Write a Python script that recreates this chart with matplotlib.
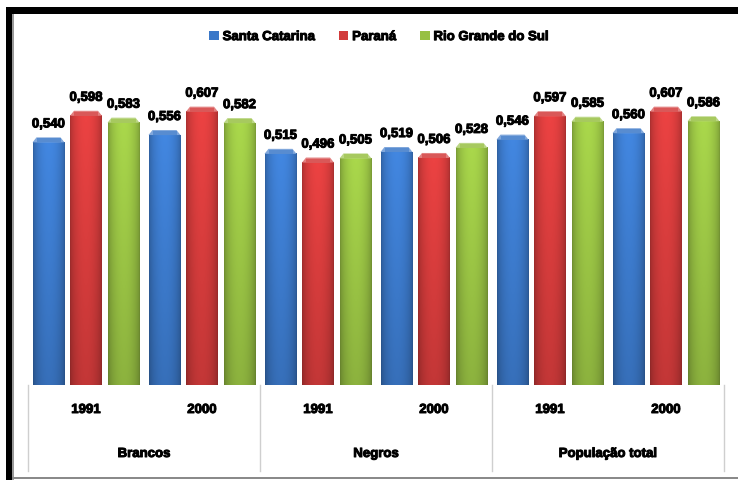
import numpy as np
import matplotlib
matplotlib.use('Agg')
import matplotlib.pyplot as plt
import matplotlib.patheffects as pe
from matplotlib.patches import Rectangle, Polygon, Patch
from matplotlib.colors import to_rgb

plt.rcParams['font.family'] = ['Liberation Sans', 'DejaVu Sans']
plt.rcParams['font.weight'] = 'bold'

groups = ['Brancos', 'Negros', 'População total']
years = ['1991', '2000']
states = ['Santa Catarina', 'Paraná', 'Rio Grande do Sul']
santa_catarina = [0.540, 0.556, 0.515, 0.519, 0.546, 0.560]
parana = [0.598, 0.607, 0.496, 0.506, 0.597, 0.607]
rio_grande = [0.583, 0.582, 0.505, 0.528, 0.585, 0.586]

colors = ['#3b78c8', '#d23b3b', '#97c043']

# heavier strokes on the bold text
heavy = [pe.withStroke(linewidth=0.7, foreground='black')]

W, H = 738, 481
fig = plt.figure(figsize=(W / 100, H / 100), dpi=100)

# plot area in pixels: x 28..724, y 65..386 (from top)
ax = fig.add_axes([28 / W, (H - 386) / H, (724 - 28) / W, (386 - 65) / H])
ax.set_xlim(0, 6)
ax.set_ylim(0, 0.7)
ax.axis('off')

bar_w = 32 / 116
step = 37.5 / 116
bevel_h = 5 / 458
bevel_in = 4 / 116


def shaded_bar(ax, xc, h, color):
    rgb = np.array(to_rgb(color))
    x0, x1 = xc - bar_w / 2, xc + bar_w / 2
    top = h - bevel_h
    xs = np.linspace(0, 1, 40)
    horiz = 0.78 + 0.30 * np.sin(np.pi * xs) ** 0.6
    vert = np.linspace(1.04, 0.86, 80)
    img = rgb[None, None, :] * horiz[None, :, None] * vert[:, None, None]
    img = np.clip(img, 0, 1)
    ax.imshow(img, extent=(x0, x1, 0, top), origin='upper', aspect='auto',
              interpolation='bilinear', zorder=2)
    light = rgb + (1 - rgb) * 0.35
    cap = Polygon([(x0, top), (x0 + bevel_in, h), (x1 - bevel_in, h), (x1, top)],
                  closed=True, facecolor=light, edgecolor='none', zorder=3)
    ax.add_patch(cap)
    ax.add_patch(Polygon([(x0 + bevel_in, top), (x0 + bevel_in, h - bevel_h * 0.2),
                          (x1 - bevel_in, h - bevel_h * 0.2), (x1 - bevel_in, top)],
                         closed=True, facecolor=rgb + (1 - rgb) * 0.15, edgecolor='none', zorder=3))


series = [santa_catarina, parana, rio_grande]
for s, (vals, col) in enumerate(zip(series, colors)):
    for i, v in enumerate(vals):
        xc = i + 0.5 + (s - 1) * step
        shaded_bar(ax, xc, v, col)
        ax.annotate(f'{v:.3f}'.replace('.', ','), (xc, v), xytext=(0, 5),
                    textcoords='offset points', ha='center', va='bottom',
                    fontsize=9.5, fontweight='bold', zorder=4, path_effects=heavy)

ax.set_xlim(0, 6)
ax.set_ylim(0, 0.7)

# two-level category axis
trans = ax.get_xaxis_transform()
px = 1 / (386 - 65)
for xb in [0, 2, 4, 6]:
    ax.plot([xb, xb], [0, -(472 - 386) * px], color='#cfcfcf', lw=1,
            transform=trans, clip_on=False)
for i in range(6):
    ax.text(i + 0.5, -(411 - 386) * px, years[i % 2], transform=trans,
            ha='center', va='center', fontsize=9.5, fontweight='bold', path_effects=heavy)
for g, name in enumerate(groups):
    ax.text(2 * g + 1, -(455 - 386) * px, name, transform=trans,
            ha='center', va='center', fontsize=9.5, fontweight='bold', path_effects=heavy)

handles = [Patch(facecolor=c, edgecolor='none', label=n) for c, n in zip(colors, states)]
leg = fig.legend(handles=handles, loc='center', bbox_to_anchor=(379 / W, 1 - 38 / H),
                 ncol=3, frameon=False, fontsize=9.5, handlelength=0.7, handleheight=0.7,
                 handletextpad=0.3, columnspacing=1.8)
for t in leg.get_texts():
    t.set_path_effects(heavy)

# outer frame
fig.patches.append(Rectangle((6 / W, 1 - 15 / H), 1, 7 / H, transform=fig.transFigure,
                             facecolor='black', edgecolor='none'))
fig.patches.append(Rectangle((6 / W, 0), 6 / W, 1 - 8 / H, transform=fig.transFigure,
                             facecolor='black', edgecolor='none'))
fig.patches.append(Rectangle((12 / W, 0), 1.5 / W, 1 - 15 / H, transform=fig.transFigure,
                             facecolor='#9a9a9a', edgecolor='none'))
fig.patches.append(Rectangle((12 / W, 1 / H), 1, 2 / H, transform=fig.transFigure,
                             facecolor='#8a8a8a', edgecolor='none'))

fig.savefig('out.png', dpi=100)
